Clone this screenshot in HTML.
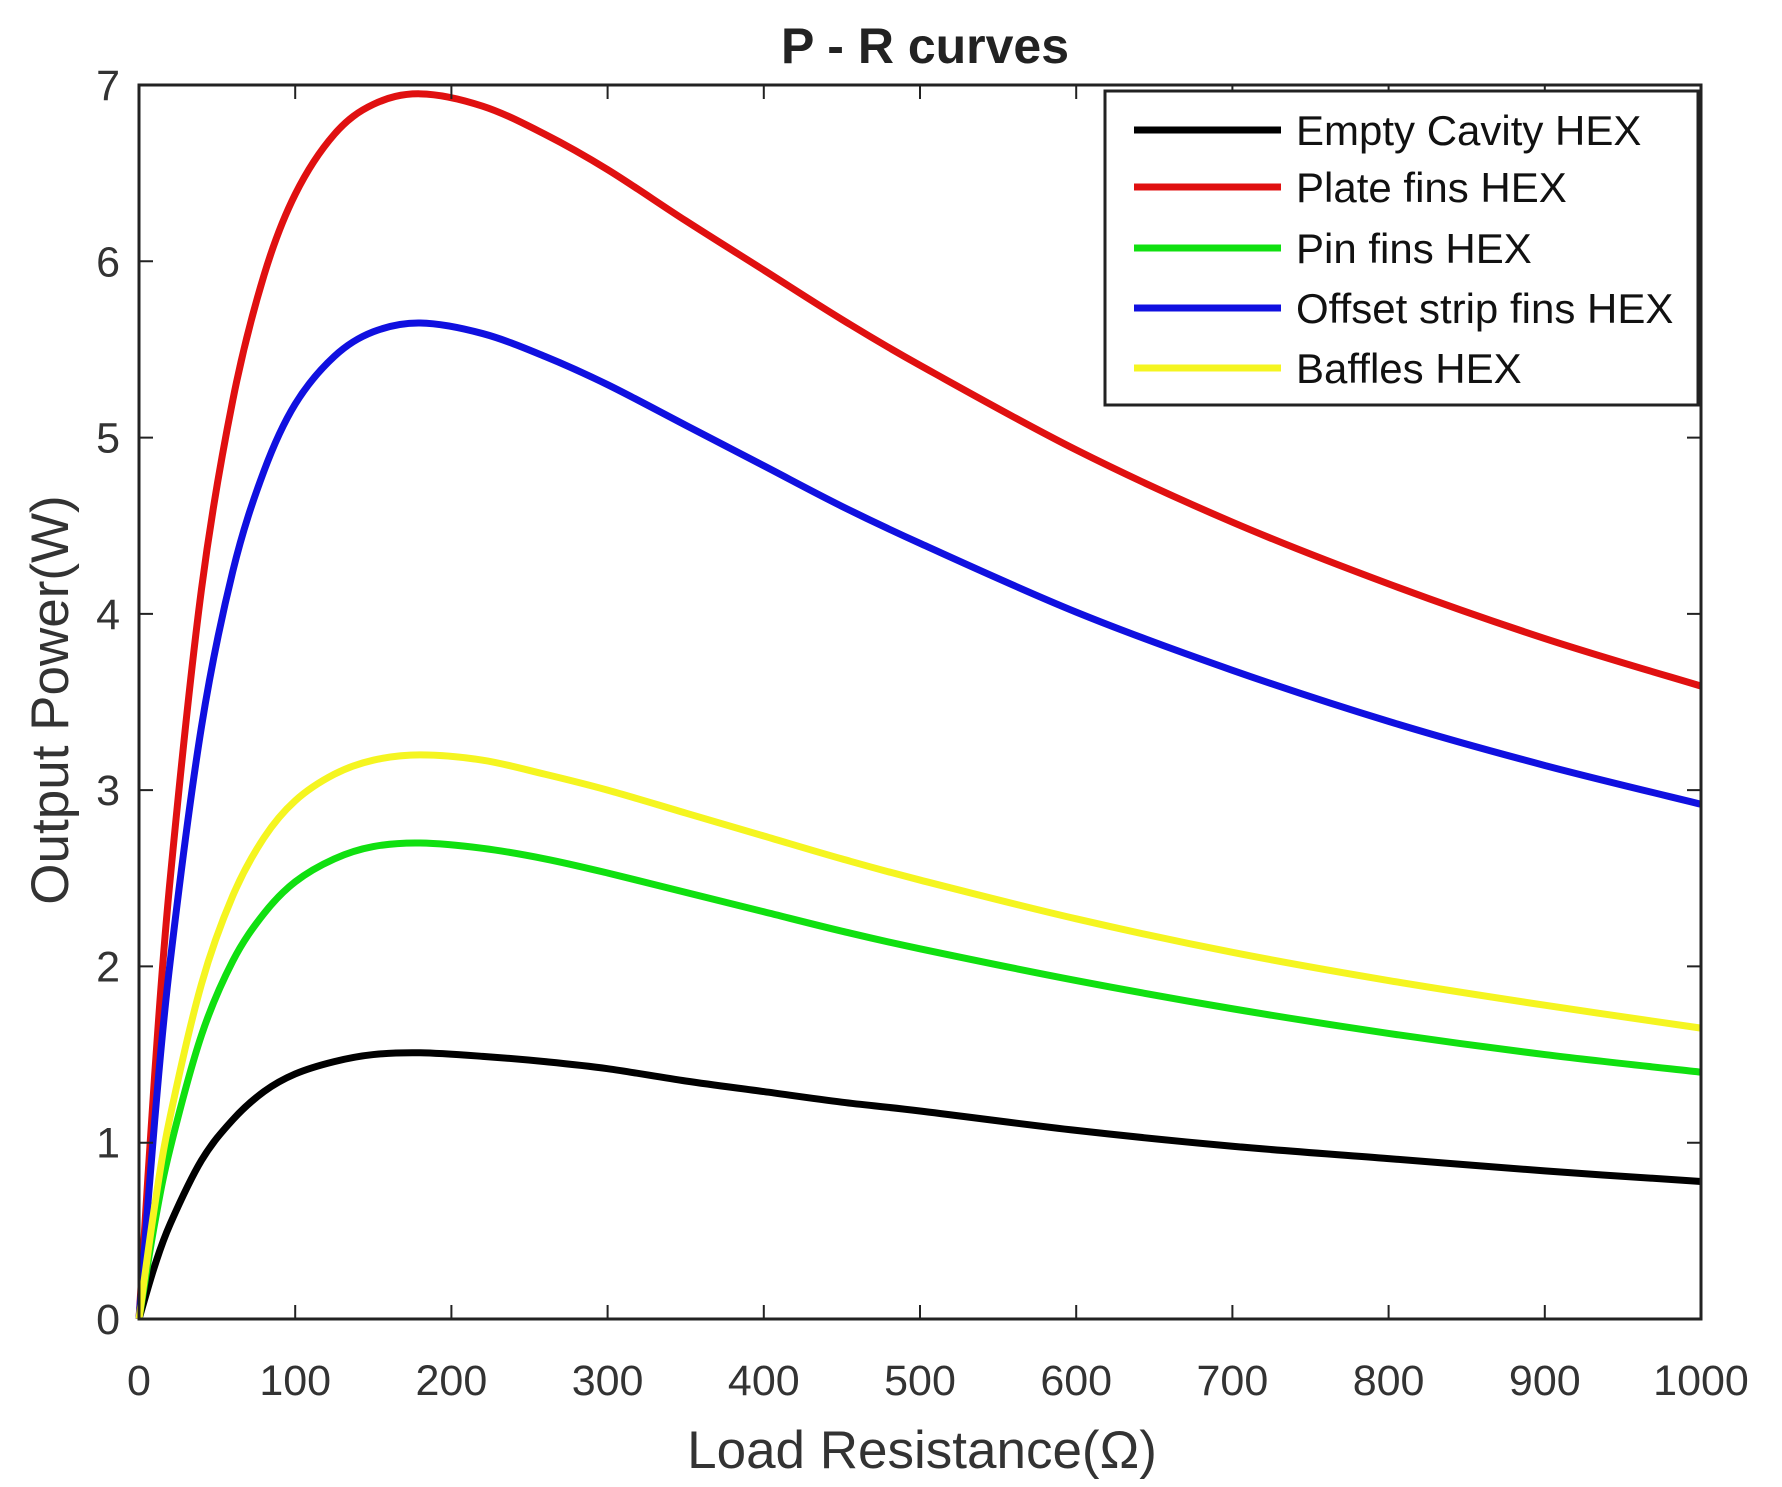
<!DOCTYPE html>
<html><head><meta charset="utf-8"><style>
html,body{margin:0;padding:0;background:#fff;}
svg{display:block;font-family:"Liberation Sans",Arial,sans-serif;}
</style></head><body>
<svg id="chart" width="1782" height="1487" viewBox="0 0 1782 1487" xmlns="http://www.w3.org/2000/svg">
<rect width="1782" height="1487" fill="#fff"/>
<text x="925" y="63" text-anchor="middle" font-size="50" font-weight="bold" fill="#222">P - R curves</text>
<g id="grid"></g>
<g id="series"></g>
<rect x="139" y="85" width="1562" height="1234" fill="none" stroke="#222" stroke-width="3"/>
<g id="ticks"></g>
<text x="922" y="1468" text-anchor="middle" font-size="53" fill="#333">Load Resistance(Ω)</text>
<text transform="translate(68,700) rotate(-90)" text-anchor="middle" font-size="53" fill="#333">Output Power(W)</text>
<g id="legend"></g>
</svg>
<script>
const resistance = [0,10,20,40,60,80,100,125,150,180,220,260,300,350,400,450,500,600,700,800,900,1000];
const emptyCavity = [0,0.30,0.54,0.90,1.13,1.29,1.39,1.46,1.50,1.51,1.49,1.46,1.42,1.35,1.29,1.23,1.18,1.07,0.98,0.91,0.84,0.78];
const plateFins = [0,1.38,2.50,4.14,5.21,5.92,6.38,6.72,6.89,6.95,6.88,6.72,6.52,6.23,5.95,5.67,5.41,4.93,4.52,4.17,3.86,3.59];
const pinFins = [0,0.54,0.97,1.61,2.03,2.30,2.48,2.61,2.68,2.70,2.67,2.61,2.53,2.42,2.31,2.20,2.10,1.92,1.76,1.62,1.50,1.40];
const offsetStrip = [0,1.12,2.03,3.36,4.24,4.81,5.19,5.46,5.60,5.65,5.59,5.46,5.30,5.07,4.84,4.61,4.40,4.01,3.68,3.39,3.14,2.92];
const baffles = [0,0.64,1.15,1.90,2.40,2.73,2.94,3.09,3.17,3.20,3.17,3.09,3.00,2.87,2.74,2.61,2.49,2.27,2.08,1.92,1.78,1.65];
const seriesNames = ["Empty Cavity HEX","Plate fins HEX","Pin fins HEX","Offset strip fins HEX","Baffles HEX"];
const seriesColors = ["#000000","#e01010","#10e010","#1010e0","#f5f520"];
const xTicks = [0,100,200,300,400,500,600,700,800,900,1000];
const yTicks = [0,1,2,3,4,5,6,7];

const NS="http://www.w3.org/2000/svg";
const L=139,R=1701,T=85,B=1319;
function xs(v){return L+(v-0)/(1000-0)*(R-L);}
function ys(v){return B-(v-0)/(7-0)*(B-T);}
function mk(tag,attrs,parent){const e=document.createElementNS(NS,tag);for(const k in attrs)e.setAttribute(k,attrs[k]);parent.appendChild(e);return e;}

const ticks=document.getElementById('ticks');
xTicks.forEach(t=>{
  const x=xs(t);
  const a=mk('path',{d:`M${x},${B}V${B-14}M${x},${T}V${T+14}`,stroke:'#222','stroke-width':2},ticks);
  
  
  const lb=mk('text',{x:x,y:1395,'text-anchor':'middle','font-size':43,fill:'#333'},ticks);
  lb.textContent=t;
  
  
});
yTicks.forEach(t=>{
  const y=ys(t);
  const a=mk('path',{d:`M${L},${y}H${L+14}M${R},${y}H${R-14}`,stroke:'#222','stroke-width':2},ticks);
  
  
  const lb=mk('text',{x:120,y:y+15,'text-anchor':'end','font-size':43,fill:'#333'},ticks);
  lb.textContent=t;
  
  
});

function smoothPath(xv,yv){
  const p=xv.map((x,i)=>[xs(x),ys(yv[i])]);
  let d=`M${p[0][0]},${p[0][1]}`;
  for(let i=0;i<p.length-1;i++){
    const p0=p[i-1]||p[i],p1=p[i],p2=p[i+1],p3=p[i+2]||p2;
    const c1=[p1[0]+(p2[0]-p0[0])/6,p1[1]+(p2[1]-p0[1])/6];
    const c2=[p2[0]-(p3[0]-p1[0])/6,p2[1]-(p3[1]-p1[1])/6];
    d+=`C${c1[0]},${c1[1]} ${c2[0]},${c2[1]} ${p2[0]},${p2[1]}`;
  }
  return d;
}
const allSeries=[emptyCavity,plateFins,pinFins,offsetStrip,baffles];
const sg=document.getElementById('series');
const names=['line-empty-cavity','line-plate-fins','line-pin-fins','line-offset-strip-fins','line-baffles'];
allSeries.forEach((s,i)=>{
  const p=mk('path',{d:smoothPath(resistance,s),fill:'none',stroke:seriesColors[i],'stroke-width':7,'stroke-linejoin':'round'},sg);
  
  
});

const lg=document.getElementById('legend');
const box=mk('rect',{x:1105,y:91,width:593,height:314,fill:'#fff',stroke:'#222','stroke-width':3},lg);


const ly=[130,187,248,308,368];
seriesNames.forEach((n,i)=>{
  const ln=mk('line',{x1:1134,x2:1281,y1:ly[i],y2:ly[i],stroke:seriesColors[i],'stroke-width':7},lg);
  
  
  const t=mk('text',{x:1296,y:ly[i]+15,'font-size':42,fill:'#111','textLength':0},lg);
  t.removeAttribute('textLength');
  t.textContent=n;
  
  
});
</script>
</body></html>
